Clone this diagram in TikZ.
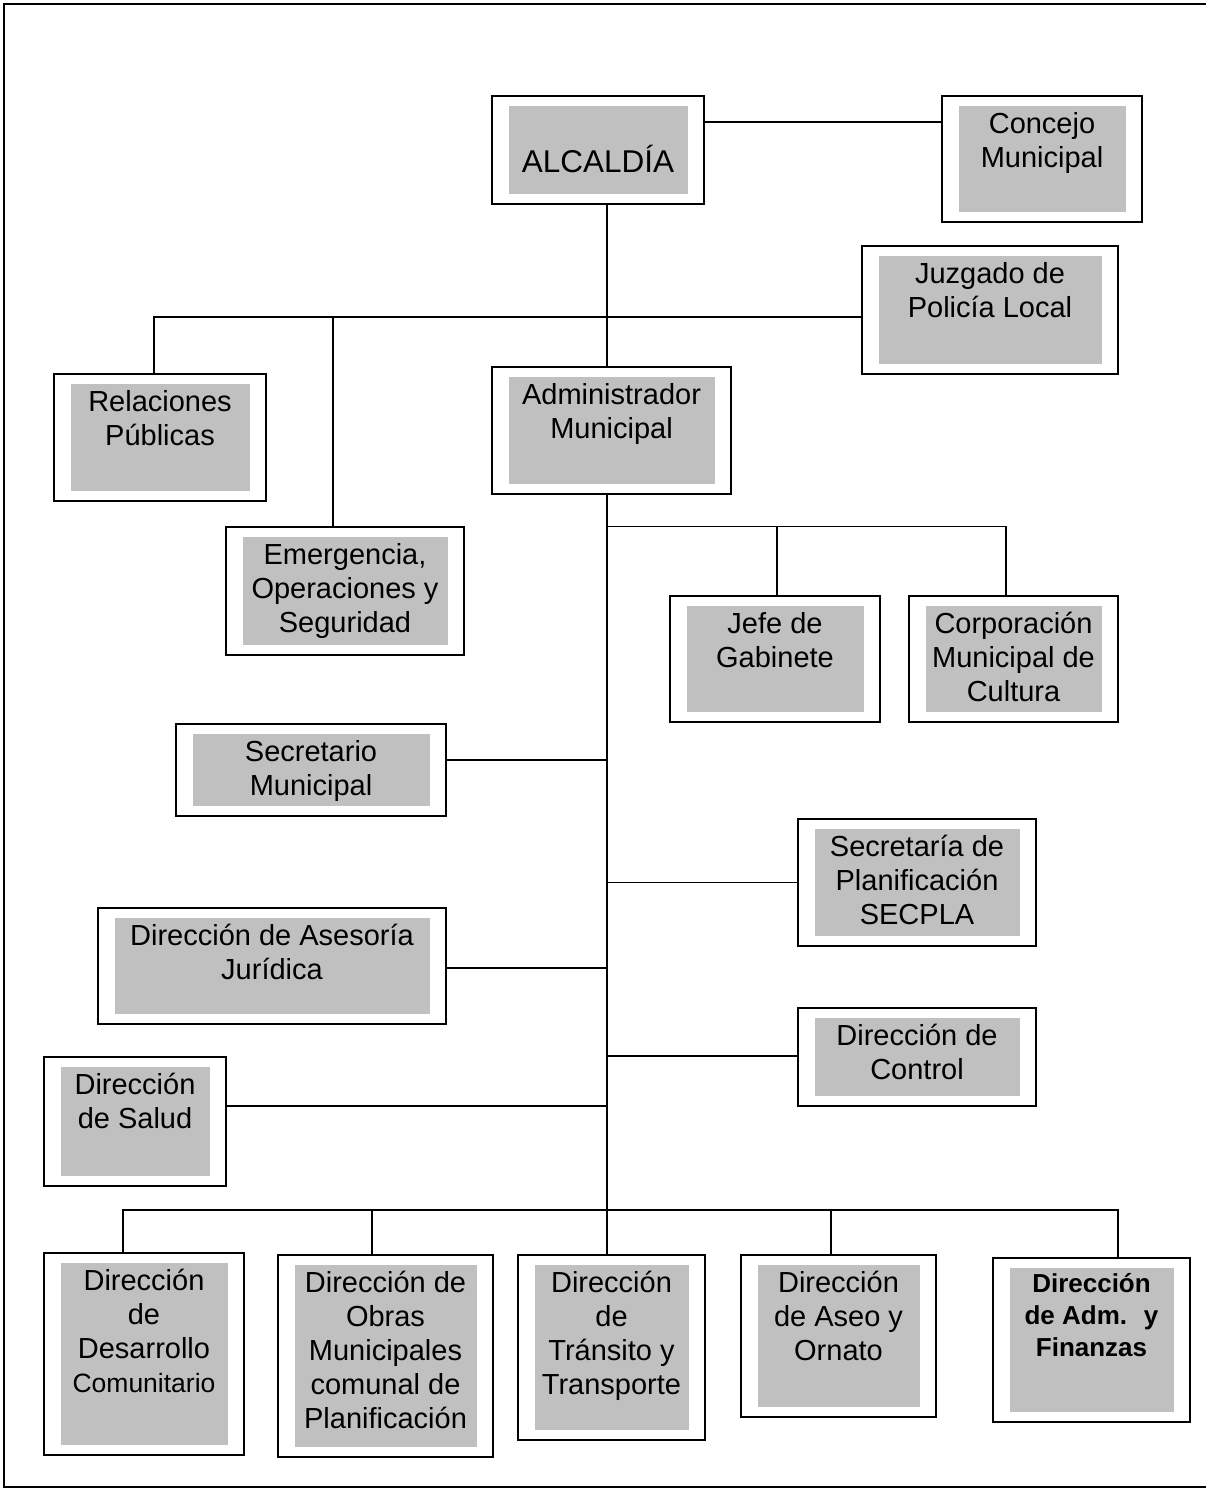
\documentclass[tikz,border=0pt]{standalone}
\usepackage{fontspec}
\setmainfont{Liberation Sans}
\usepackage{tikz}
\usetikzlibrary{positioning,calc}
\definecolor{boxgray}{RGB}{192,192,192}
\newcommand{\orgfont}{\fontsize{29}{34}\selectfont}

\begin{document}
\begin{tikzpicture}[
  x=1pt, y=-1pt,
  orgbox/.style={draw, line width=1.5pt, inner sep=0pt, path picture={
      \fill[boxgray] ([shift={(17pt,-10pt)}]path picture bounding box.north west)
        rectangle ([shift={(-16pt,10pt)}]path picture bounding box.south east);}},
  boxtext/.style={anchor=north, inner sep=0pt, yshift=-17pt, align=center, font=\orgfont},
  link/.style={line width=1.5pt}
]
\useasboundingbox (0,0) rectangle (1206,1488);
% page frame
\draw[line width=2.5pt] (1212,4) -- (4,4) -- (4,1487) -- (1212,1487);

% top level
\node[orgbox, minimum width=212pt, minimum height=108pt,
  label={[boxtext, name=alc-t, yshift=-33pt, font=\fontsize{31.5}{36}\selectfont]north:ALCALDÍA}] (alc) at (598,150) {};
\node[orgbox, minimum width=200pt, minimum height=126pt,
  label={[boxtext, name=con-t]north:{Concejo\\Municipal}}] (con) at (1042,159) {};
\node[orgbox, minimum width=256pt, minimum height=128pt,
  label={[boxtext, name=juz-t]north:{Juzgado de\\Policía Local}}] (juz) at (990,310) {};
\node[orgbox, minimum width=212pt, minimum height=127pt,
  label={[boxtext, name=rel-t]north:{Relaciones\\Públicas}}] (rel) at (160,437.5) {};
\node[orgbox, minimum width=239pt, minimum height=127pt,
  label={[boxtext, name=adm-t]north:{Administrador\\Municipal}}] (adm) at (611.5,430.5) {};
\node[orgbox, minimum width=238pt, minimum height=128pt,
  label={[boxtext, name=eme-t]north:{Emergencia,\\Operaciones y\\Seguridad}}] (eme) at (345,591) {};

% under the administrator
\node[orgbox, minimum width=210pt, minimum height=126pt,
  label={[boxtext, name=jef-t]north:{Jefe de\\Gabinete}}] (jef) at (775,659) {};
\node[orgbox, minimum width=209pt, minimum height=126pt,
  label={[boxtext, name=cor-t]north:{Corporación\\Municipal de\\Cultura}}] (cor) at (1013.5,659) {};
\node[orgbox, minimum width=270pt, minimum height=92pt,
  label={[boxtext, name=sec-t]north:{Secretario\\Municipal}}] (sec) at (311,770) {};
\node[orgbox, minimum width=238pt, minimum height=127pt,
  label={[boxtext, name=secpla-t]north:{Secretaría de\\Planificación\\SECPLA}}] (secpla) at (917,882.5) {};
\node[orgbox, minimum width=348pt, minimum height=116pt,
  label={[boxtext, name=ase-t]north:{Dirección de Asesoría\\Jurídica}}] (ase) at (272,966) {};
\node[orgbox, minimum width=238pt, minimum height=98pt,
  label={[boxtext, name=ctl-t]north:{Dirección de\\Control}}] (ctl) at (917,1057) {};
\node[orgbox, minimum width=182pt, minimum height=129pt,
  label={[boxtext, name=sal-t]north:{Dirección\\de Salud}}] (sal) at (135,1121.5) {};

% bottom row
\node[orgbox, minimum width=200pt, minimum height=202pt,
  label={[boxtext, name=des-t]north:{Dirección\\de\\Desarrollo\\{\fontsize{26.5}{34}\selectfont Comunitario}}}] (des) at (144,1354) {};
\node[orgbox, minimum width=215pt, minimum height=202pt,
  label={[boxtext, name=obr-t]north:{Dirección de\\Obras\\Municipales\\comunal de\\Planificación}}] (obr) at (385.5,1356) {};
\node[orgbox, minimum width=187pt, minimum height=185pt,
  label={[boxtext, name=tra-t]north:{Dirección\\de\\Tránsito y\\Transporte}}] (tra) at (611.5,1347.5) {};
\node[orgbox, minimum width=195pt, minimum height=162pt,
  label={[boxtext, name=aseo-t]north:{Dirección\\de Aseo y\\Ornato}}] (aseo) at (838.5,1336) {};
\node[orgbox, minimum width=197pt, minimum height=164pt,
  label={[boxtext, name=fin-t, yshift=1.5pt, font=\fontsize{26}{32}\selectfont\bfseries]north:{Dirección\\de Adm.~ y\\Finanzas}}] (fin) at (1091.5,1340) {};

% connectors
\coordinate (spine) at (607,0);
\coordinate (bus3) at (607,1210);
\draw[link] (spine |- alc.south) -- (spine |- adm.north);
\draw[link] (spine |- adm.south) -- (bus3);
\coordinate (a1) at ([yshift=28pt]alc.east);
\draw[link] (a1) -- (a1 -| con.west);
\coordinate (bus1) at ([yshift=-7pt]juz.west);
\draw[link] (bus1) -| ([xshift=-6pt]rel.north);
\draw[link] ([xshift=-12pt]eme.north) -- ([xshift=-12pt]eme.north |- bus1);
\coordinate (bus2) at (spine |- eme.north);
\draw[link] (bus2) -| ([xshift=-7.5pt]cor.north);
\draw[link] ([xshift=2pt]jef.north) -- ([xshift=2pt]jef.north |- bus2);
\foreach \n/\a/\s in {sec/east/10, secpla/west/0, ase/east/-2, ctl/west/1, sal/east/15.5}{
  \coordinate (tmp) at ([yshift=\s pt]\n.\a);
  \draw[link] (tmp) -- (tmp -| spine);
}
\draw[link] ([xshift=-21pt]des.north) |- (bus3) -| ([xshift=26.5pt]fin.north);
\foreach \n/\s in {obr/-13.5, tra/-4.5, aseo/-7.5}
  \draw[link] ([xshift=\s pt]\n.north) -- ([xshift=\s pt]\n.north |- bus3);
\end{tikzpicture}
\end{document}
